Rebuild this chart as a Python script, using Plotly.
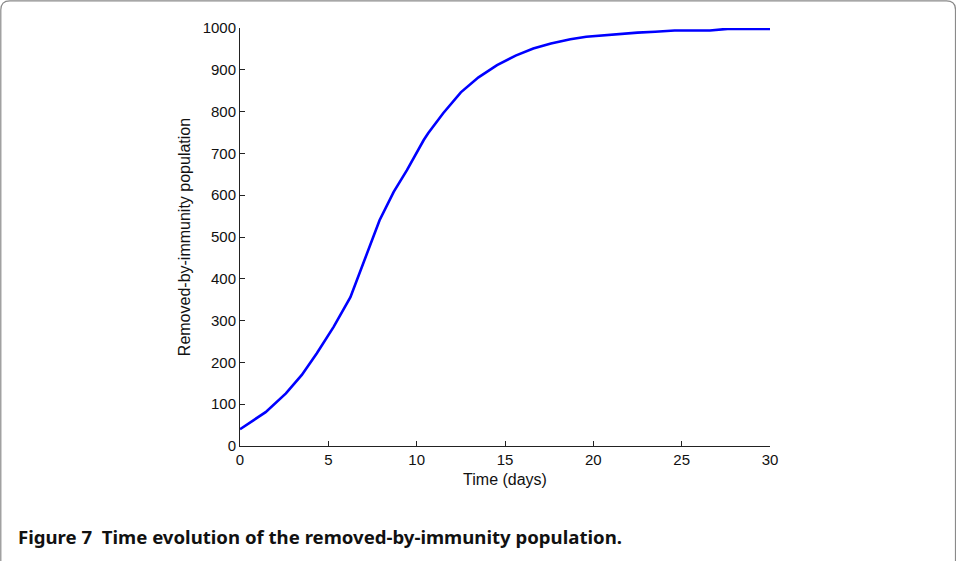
import plotly.graph_objects as go

# Solver output: time (days) and removed-by-immunity population
time_days = [0, 0.5, 1.45, 2.6, 3.5, 4.35, 5.3, 6.25, 7.0, 7.9, 8.7, 9.45,
             10.4, 10.65, 11.5, 12.5, 13.5, 14.55, 15.6, 16.6, 17.6, 18.7,
             19.6, 20.6, 21.5, 22.5, 23.5, 24.6, 26.6, 27.6, 30]
removed = [40, 54, 81, 126, 170, 222, 285, 356, 440, 540, 608, 660,
           732, 748, 796, 846, 882, 911, 934, 951, 963, 973,
           979, 983, 986, 989, 991, 994, 994, 998, 998]

x_ticks = [0, 5, 10, 15, 20, 25, 30]
y_ticks = [0, 100, 200, 300, 400, 500, 600, 700, 800, 900, 1000]

caption = "Figure 7  Time evolution of the removed-by-immunity population."

W, H = 956, 561
L, R, T, B = 240, 186, 28, 115
pw, ph = W - L - R, H - T - B


def px(x):
    return (x - L) / pw


def py(y):
    return (H - B - y) / ph


fig = go.Figure()
fig.add_trace(go.Scatter(
    x=time_days, y=removed, mode="lines",
    line=dict(color="#0000ff", width=2.6),
    showlegend=False, hoverinfo="x+y",
))

label_font = dict(family="Liberation Sans, Arial, sans-serif", size=16, color="#111111")
axis_common = dict(
    showgrid=False, zeroline=False, showline=True, linecolor="#222222",
    linewidth=1, ticks="inside", ticklen=5, tickcolor="#222222",
    tickfont=dict(family="Liberation Sans, Arial, sans-serif", size=15, color="#111111"),
    mirror=False,
)

fig.update_xaxes(range=[0, 30], tickvals=x_ticks, ticktext=[str(v) for v in x_ticks],
                 title=dict(text="Time (days)", standoff=6, font=label_font),
                 **axis_common)
fig.update_yaxes(range=[0, 1000], tickvals=y_ticks, ticktext=[str(v) for v in y_ticks],
                 title=dict(text="Removed-by-immunity population", standoff=8, font=label_font),
                 **axis_common)

# Rounded frame around the whole figure
x0, x1, y0, y1, r = 0.8, 955.5, 0.8, 575, 9
path = (f"M {px(x0 + r)},{py(y0)} L {px(x1 - r)},{py(y0)} "
        f"Q {px(x1)},{py(y0)} {px(x1)},{py(y0 + r)} "
        f"L {px(x1)},{py(y1 - r)} Q {px(x1)},{py(y1)} {px(x1 - r)},{py(y1)} "
        f"L {px(x0 + r)},{py(y1)} Q {px(x0)},{py(y1)} {px(x0)},{py(y1 - r)} "
        f"L {px(x0)},{py(y0 + r)} Q {px(x0)},{py(y0)} {px(x0 + r)},{py(y0)} Z")
fig.add_shape(type="path", path=path, xref="paper", yref="paper",
              line=dict(color="#8a8a8a", width=1.2), layer="above")

fig.add_annotation(
    text=f"<b>{caption}</b>", xref="paper", yref="paper",
    x=px(16), y=py(536.5), xanchor="left", yanchor="middle", showarrow=False,
    font=dict(family="Noto Sans, Open Sans, sans-serif", size=18.6, color="#111111"),
)

fig.update_layout(
    width=W, height=H, margin=dict(l=L, r=R, t=T, b=B),
    paper_bgcolor="white", plot_bgcolor="white",
)

fig.write_html("out.html")
